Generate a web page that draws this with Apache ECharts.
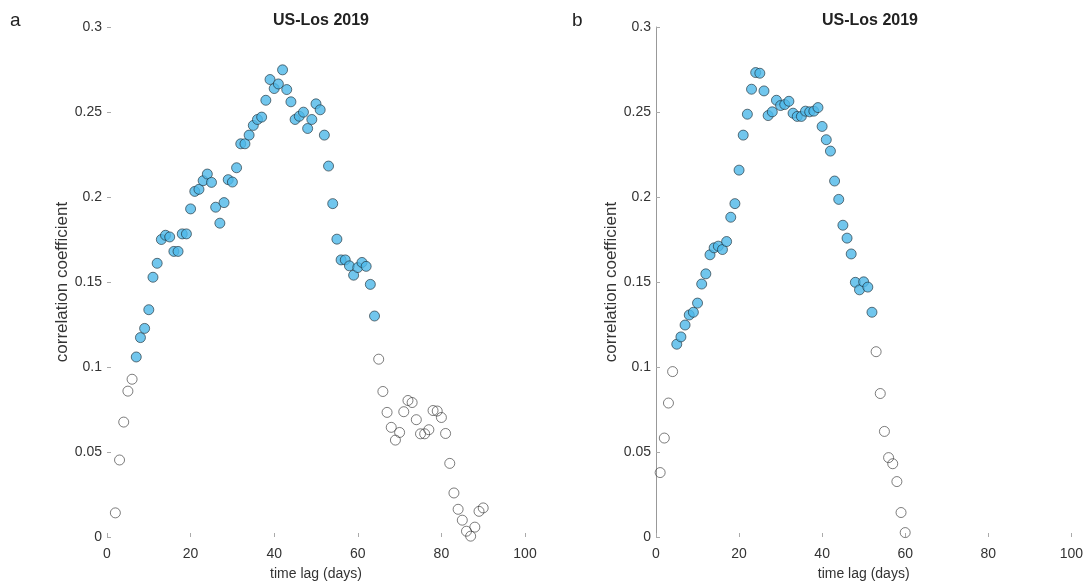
<!DOCTYPE html>
<html>
<head>
<meta charset="utf-8">
<script src="https://cdn.jsdelivr.net/npm/echarts@6/dist/echarts.min.js"></script>
<style>
html,body{margin:0;padding:0;background:#fff;}
#chart{width:1086px;height:586px;}
</style>
</head>
<body>
<div id="chart"></div>
<script>
// ---- data ----
const titleText = 'US-Los 2019';
const xTicks = [0, 20, 40, 60, 80, 100];
const yTicks = [0, 0.05, 0.1, 0.15, 0.2, 0.25, 0.3];

// panel a
const aOpenEarlyStart = 2;
const aOpenEarly = [0.0142, 0.0453, 0.0676, 0.0858, 0.0928];
const aFilledStart = 7;
const aFilled = [
  0.1059, 0.1173, 0.1227, 0.1337, 0.1528, 0.161, 0.175, 0.1775,
  0.1765, 0.168, 0.168, 0.1783, 0.1783, 0.193, 0.2033, 0.2045,
  0.2096, 0.2135, 0.2086, 0.194, 0.1846, 0.1967, 0.2102, 0.2088,
  0.2172, 0.2313, 0.2313, 0.2364, 0.2421, 0.2456, 0.247, 0.2569,
  0.2691, 0.2638, 0.2665, 0.2748, 0.2632, 0.256, 0.2456, 0.2475,
  0.2499, 0.2403, 0.2456, 0.2548, 0.2513, 0.2364, 0.2182, 0.1961,
  0.1752, 0.163, 0.163, 0.1595, 0.154, 0.1585, 0.1615, 0.1592,
  0.1486, 0.13
];
const aOpenLateStart = 65;
const aOpenLate = [
  0.1046, 0.0856, 0.0733, 0.0645, 0.057, 0.0615, 0.0737, 0.0803, 0.0791,
  0.069, 0.0607, 0.0607, 0.0631, 0.0744, 0.0741, 0.0703, 0.0609, 0.0433,
  0.0259, 0.0163, 0.0099, 0.0034, 0.0005, 0.0058, 0.0151, 0.0171
];

// panel b
const bOpenEarlyStart = 1;
const bOpenEarly = [0.0379, 0.0582, 0.0788, 0.0973];
const bFilledStart = 5;
const bFilled = [
  0.1134, 0.1177, 0.1247, 0.1306, 0.1322, 0.1376, 0.1488, 0.1548,
  0.166, 0.1701, 0.1711, 0.1691, 0.1738, 0.1881, 0.1961, 0.2158,
  0.2364, 0.2487, 0.2634, 0.2732, 0.2728, 0.2624, 0.2479, 0.2501,
  0.2569, 0.2538, 0.2544, 0.2563, 0.2493, 0.2474, 0.2474, 0.2505,
  0.2501, 0.2505, 0.2526, 0.2415, 0.2337, 0.227, 0.2094, 0.1986,
  0.1834, 0.1758, 0.1665, 0.1498, 0.1454, 0.1501, 0.147, 0.1322
];
const bOpenLateStart = 53;
const bOpenLate = [0.109, 0.0844, 0.0621, 0.0467, 0.0431, 0.0326, 0.0144, 0.0026];

// ---- build ----
function pairs(start, vals) { return vals.map((v, i) => [start + i, v]); }

const FONT = 'Liberation Sans, Arial, sans-serif';
const filledStyle = { color: '#4DB8E9', borderColor: '#1c2a33', borderWidth: 0.8 };
const openStyle = { color: 'rgba(255,255,255,0)', borderColor: '#333333', borderWidth: 0.8 };

function makeX(gi) {
  return {
    type: 'value', gridIndex: gi, min: 0, max: 100, interval: 20,
    name: 'time lag (days)', nameLocation: 'middle', nameGap: 30,
    nameTextStyle: { fontFamily: FONT, fontSize: 14, color: '#333' },
    axisLine: { show: false },
    axisTick: { show: true, inside: true, length: 4, lineStyle: { color: '#aaa' } },
    axisLabel: { fontFamily: FONT, fontSize: 14, color: '#333', margin: 10 },
    splitLine: { show: false }
  };
}
function makeY(gi, showLine) {
  return {
    type: 'value', gridIndex: gi, min: 0, max: 0.3, interval: 0.05,
    name: 'correlation coefficient', nameLocation: 'middle', nameGap: 32,
    nameTextStyle: { fontFamily: FONT, fontSize: 17, color: '#333' },
    axisLine: { show: showLine, lineStyle: { color: '#999', width: 1 } },
    axisTick: { show: true, inside: true, length: 4, lineStyle: { color: '#aaa' } },
    axisLabel: { fontFamily: FONT, fontSize: 14, color: '#333', margin: 5 },
    splitLine: { show: false }
  };
}
function scatter(gi, data, style) {
  return {
    type: 'scatter', xAxisIndex: gi, yAxisIndex: gi, data: data,
    symbol: 'circle', symbolSize: 10, itemStyle: style, silent: true, animation: false
  };
}

const chart = echarts.init(document.getElementById('chart'), null, { renderer: 'canvas' });
chart.setOption({
  backgroundColor: '#fff',
  animation: false,
  title: [
    { text: titleText, left: 316, top: 8, textAlign: 'center',
      textStyle: { fontFamily: FONT, fontSize: 16, fontWeight: 'bold', color: '#222' } },
    { text: titleText, left: 865, top: 8, textAlign: 'center',
      textStyle: { fontFamily: FONT, fontSize: 16, fontWeight: 'bold', color: '#222' } },
    { text: 'a', left: 5, top: 6,
      textStyle: { fontFamily: FONT, fontSize: 19, fontWeight: 'normal', color: '#222' } },
    { text: 'b', left: 567, top: 6,
      textStyle: { fontFamily: FONT, fontSize: 19, fontWeight: 'normal', color: '#222' } }
  ],
  grid: [
    { left: 107, right: 561, top: 27, bottom: 48 },
    { left: 656, right: 11, top: 27, bottom: 48 }
  ],
  xAxis: [makeX(0), makeX(1)],
  yAxis: [makeY(0, false), makeY(1, true)],
  series: [
    scatter(0, pairs(aOpenEarlyStart, aOpenEarly), openStyle),
    scatter(0, pairs(aOpenLateStart, aOpenLate), openStyle),
    scatter(0, pairs(aFilledStart, aFilled), filledStyle),
    scatter(1, pairs(bOpenEarlyStart, bOpenEarly), openStyle),
    scatter(1, pairs(bOpenLateStart, bOpenLate), openStyle),
    scatter(1, pairs(bFilledStart, bFilled), filledStyle)
  ]
});
</script>
</body>
</html>
